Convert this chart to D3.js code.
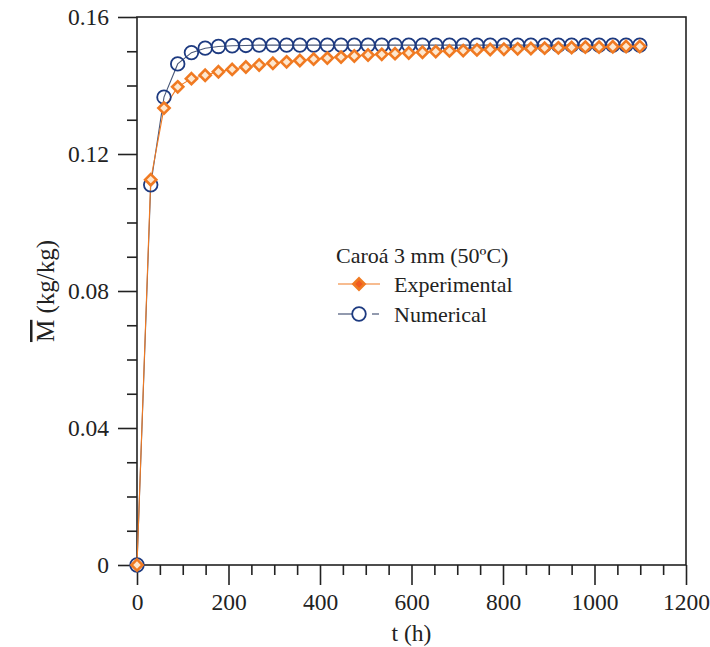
<!DOCTYPE html>
<html><head><meta charset="utf-8">
<script src="https://cdn.jsdelivr.net/npm/d3@7"></script>
<style>body{margin:0;background:#fff}svg{display:block}text{font-family:"Liberation Serif","Times New Roman",serif;fill:#222}</style>
</head><body>
<svg id="c" width="710" height="647"></svg>
<script>
const times = [0,30,59,89,119,149,178,208,238,267,297,327,356,386,416,446,475,505,535,564,594,624,653,683,713,743,772,802,832,861,891,921,950,980,1010,1040,1069,1099];
const experimental = [0,0.1125,0.1334,0.1396,0.1420,0.1430,0.1440,0.1447,0.1454,0.1460,0.1465,0.1469,0.1473,0.1477,0.1480,0.1483,0.1486,0.1489,0.1491,0.1493,0.1495,0.1497,0.1499,0.1501,0.1502,0.1504,0.1505,0.1506,0.1507,0.1508,0.1509,0.1510,0.1511,0.1512,0.1512,0.1513,0.1514,0.1514];
const numerical = [0,0.1110,0.1366,0.1463,0.1496,0.1509,0.1514,0.1516,0.1517,0.1518,0.1518,0.1518,0.1518,0.1518,0.1518,0.1518,0.1518,0.1518,0.1518,0.1518,0.1518,0.1518,0.1518,0.1518,0.1518,0.1518,0.1518,0.1518,0.1518,0.1518,0.1518,0.1518,0.1518,0.1518,0.1518,0.1518,0.1518,0.1518];
const xTicks = [0,200,400,600,800,1000,1200];
const yTicks = [0,0.04,0.08,0.12,0.16];
const yTickLabels = ["0","0.04","0.08","0.12","0.16"];
const legendTitle = "Caroá 3 mm (50ºC)";
const seriesNames = ["Experimental","Numerical"];

const svg = d3.select("#c");
const L=137,R=686,T=17,B=565;
const x = d3.scaleLinear().domain([0,1200]).range([L,R]);
const y = d3.scaleLinear().domain([0,0.16]).range([B,T]);
const orange="#f07a22", blue="#1d3a80";

// frame
svg.append("rect").attr("x",L).attr("y",T).attr("width",R-L).attr("height",B-T)
  .attr("fill","none").attr("stroke","#222").attr("stroke-width",1.6);

// minor ticks
const minorX = d3.range(0,1201,50).filter(v=>v%200!==0);
const minorY = d3.range(0,16.01,1).map(v=>v/100).filter((v,i)=>i%4!==0);
const xMin = d3.axisBottom(x).tickValues(minorX).tickSize(10).tickFormat("");
const yMin = d3.axisLeft(y).tickValues(minorY).tickSize(10).tickFormat("");
svg.append("g").attr("transform",`translate(0,${B})`).call(xMin);
svg.append("g").attr("transform",`translate(${L},0)`).call(yMin);
const xAx = d3.axisBottom(x).tickValues(xTicks).tickSize(20).tickPadding(8).tickFormat(d3.format("d"));
const yAx = d3.axisLeft(y).tickValues(yTicks).tickSize(19).tickPadding(9).tickFormat((d,i)=>yTickLabels[i]);
svg.append("g").attr("class","xa").attr("transform",`translate(0,${B})`).call(xAx);
svg.append("g").attr("class","ya").attr("transform",`translate(${L},0)`).call(yAx);
svg.selectAll(".domain").remove();
svg.selectAll(".tick line").attr("stroke","#222").attr("stroke-width",1.6);
svg.selectAll(".tick text").style("font-family","Liberation Serif, serif").style("font-size","23.5px").attr("fill","#222");

// axis titles
svg.append("text").attr("x",x(600)).attr("y",641).attr("text-anchor","middle").style("font-size","23.5px").text("t (h)");
const yl = svg.append("text").attr("transform",`translate(54,${(T+B)/2}) rotate(-90)`).attr("text-anchor","middle").style("font-size","25px");
yl.append("tspan").attr("text-decoration","overline").text("M");
yl.append("tspan").text(" (kg/kg)");

// lines
const expData = times.map((t,i)=>({t,v:experimental[i]}));
const numData = times.map((t,i)=>({t,v:numerical[i]}));
const line = d3.line().x(d=>x(d.t)).y(d=>y(d.v));
svg.append("path").datum(numData).attr("d",line).attr("fill","none").attr("stroke","#4a5878").attr("stroke-width",1.1);
svg.append("path").datum(expData).attr("d",line).attr("fill","none").attr("stroke",orange).attr("stroke-width",1.1);

const diamond = r => `M0,${-r}L${r},0L0,${r}L${-r},0Z`;
svg.append("g").selectAll("circle").data(numData).join("circle")
  .attr("cx",d=>x(d.t)).attr("cy",d=>y(d.v)).attr("r",6.8)
  .attr("fill","none").attr("stroke",blue).attr("stroke-width",1.8);
svg.append("g").selectAll("path").data(expData).join("path")
  .attr("transform",d=>`translate(${x(d.t)},${y(d.v)})`).attr("d",diamond(5.6))
  .attr("fill","#fde7cf").attr("stroke",orange).attr("stroke-width",2.6);

// legend
const lg = svg.append("g");
lg.append("text").attr("x",336).attr("y",263).style("font-size","22px").text(legendTitle);
lg.append("line").attr("x1",338).attr("x2",380).attr("y1",284).attr("y2",284).attr("stroke",orange).attr("stroke-width",1.2);
lg.append("path").attr("transform","translate(359,284)").attr("d",diamond(5.6)).attr("fill","#f05a22").attr("stroke",orange).attr("stroke-width",2.6);
lg.append("text").attr("x",394).attr("y",292).style("font-size","22px").text(seriesNames[0]);
lg.append("line").attr("x1",338).attr("x2",352).attr("y1",314).attr("y2",314).attr("stroke","#4a5878").attr("stroke-width",1.2);
lg.append("line").attr("x1",372).attr("x2",379).attr("y1",314).attr("y2",314).attr("stroke","#4a5878").attr("stroke-width",1.2);
lg.append("circle").attr("cx",359).attr("cy",314).attr("r",6.8).attr("fill","none").attr("stroke",blue).attr("stroke-width",1.8);
lg.append("text").attr("x",394).attr("y",322).style("font-size","22px").text(seriesNames[1]);
</script>
</body></html>
